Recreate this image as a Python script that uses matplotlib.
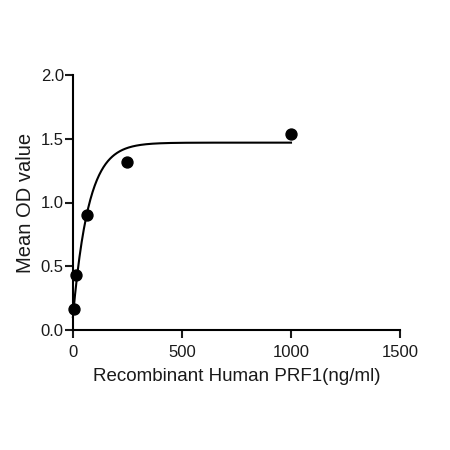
import numpy as np
import matplotlib
matplotlib.use("Agg")
import matplotlib.pyplot as plt

plt.rcParams['font.family'] = ['Liberation Sans', 'DejaVu Sans']

# measured points
conc = [3.9, 15.6, 62.5, 250, 1000]
od = [0.16, 0.43, 0.90, 1.32, 1.54]

# fitted curve parameters (one-phase association)
y0 = 0.10
plateau = 1.47
k = 0.014

xfit = np.linspace(0, 1000, 400)
yfit = y0 + (plateau - y0) * (1 - np.exp(-k * xfit))

fig = plt.figure(figsize=(4.5, 4.5), dpi=100)
ax = fig.add_axes([0.162, 0.267, 0.727, 0.566])

ax.plot(xfit, yfit, color='black', lw=1.5, clip_on=False)
ax.scatter(conc, od, s=62, color='black', zorder=3, clip_on=False)

ax.set_xlim(0, 1500)
ax.set_ylim(0, 2.0)
ax.set_xticks([0, 500, 1000, 1500])
ax.set_yticks([0.0, 0.5, 1.0, 1.5, 2.0])
ax.set_yticklabels(['0.0', '0.5', '1.0', '1.5', '2.0'])

for s in ['top', 'right']:
    ax.spines[s].set_visible(False)
for s in ['left', 'bottom']:
    ax.spines[s].set_linewidth(1.5)
ax.tick_params(direction='out', width=1.5, length=6, labelsize=12, colors='#1a1a1a')
ax.tick_params(axis='y', pad=0.5)
ax.tick_params(axis='x', pad=5)

ax.set_xlabel('Recombinant Human PRF1(ng/ml)', fontsize=13.5, color='#1a1a1a', labelpad=6)
ax.set_ylabel('Mean OD value', fontsize=14.5, color='#1a1a1a', labelpad=4)

fig.savefig('out.png', dpi=100)
